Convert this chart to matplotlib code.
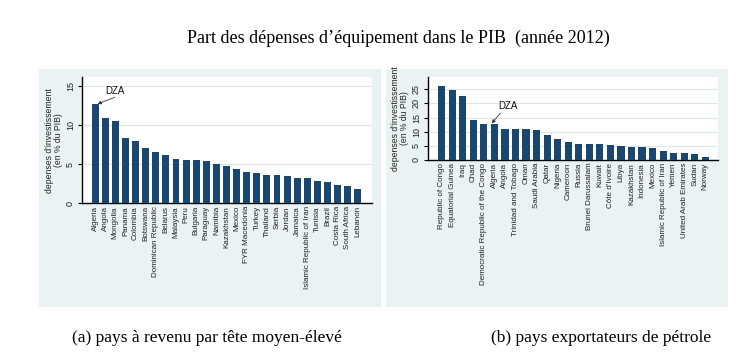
import matplotlib
matplotlib.use("Agg")
import matplotlib.pyplot as plt
from matplotlib.patches import Rectangle

# ---- data ----
countries_a = ["Algeria", "Angola", "Mongolia", "Panama", "Colombia", "Botswana",
               "Dominican Republic", "Belarus", "Malaysia", "Peru", "Bulgaria",
               "Paraguay", "Namibia", "Kazakhstan", "Mexico", "FYR Macedonia",
               "Turkey", "Thailand", "Serbia", "Jordan", "Jamaica",
               "Islamic Republic of Iran", "Tunisia", "Brazil", "Costa Rica",
               "South Africa", "Lebanon"]
values_a = [12.7, 10.9, 10.6, 8.35, 7.97, 7.03, 6.52, 6.14, 5.67, 5.54, 5.54,
            5.41, 4.98, 4.73, 4.39, 3.96, 3.83, 3.58, 3.58, 3.45, 3.24,
            3.2, 2.81, 2.68, 2.3, 2.17, 1.83]

countries_b = ["Republic of Congo", "Equatorial Guinea", "Iraq", "Chad",
               "Democratic Republic of the Congo", "Algeria", "Angola",
               "Trinidad and Tobago", "Oman", "Saudi Arabia", "Qatar", "Nigeria",
               "Cameroon", "Russia", "Brunei Darussalam", "Kuwait", "Côte d'Ivoire",
               "Libya", "Kazakhstan", "Indonesia", "Mexico",
               "Islamic Republic of Iran", "Yemen", "United Arab Emirates",
               "Sudan", "Norway"]
values_b = [26.2, 24.8, 22.6, 14.1, 12.7, 12.7, 10.95, 10.95, 10.95, 10.6, 8.8,
            7.4, 6.4, 5.7, 5.7, 5.7, 5.3, 4.95, 4.6, 4.6, 4.2, 3.3, 2.5, 2.5,
            2.1, 1.2]

yticks_a = [0, 5, 10, 15]
yticks_b = [0, 5, 10, 15, 20, 25]

title = "Part des dépenses d\u2019équipement dans le PIB  (année 2012)"
caption_a = "(a) pays à revenu par tête moyen-élevé"
caption_b = "(b) pays exportateurs de pétrole"
ylabel = "depenses d'investissement\n(en % du PIB)"

W, H = 754, 357
BAR = "#1a476f"
BG = "#eaf2f3"
GRID = "#dde7ea"
SANS = ["Liberation Sans", "DejaVu Sans"]
SERIF = ["Liberation Serif", "DejaVu Serif"]

fig = plt.figure(figsize=(W / 100, H / 100), dpi=100)
fig.patch.set_facecolor("white")


def px_rect(x0, y0, x1, y1):
    return [x0 / W, 1 - y1 / H, (x1 - x0) / W, (y1 - y0) / H]


# panel backgrounds (drawn beneath the axes)
for (x0, y0, x1, y1) in [(39, 69, 381, 307), (386, 69, 728, 307)]:
    r = px_rect(x0, y0, x1, y1)
    fig.patches.append(Rectangle((r[0], r[1]), r[2], r[3], transform=fig.transFigure,
                                 facecolor=BG, edgecolor="none", zorder=-10))


def make_panel(rect, cats, vals, yticks, ylim, xlim, dza_xy, dza_arrow):
    ax = fig.add_axes(px_rect(*rect))
    ax.set_zorder(1)
    ax.set_facecolor("white")
    x = list(range(len(cats)))
    ax.bar(x, vals, width=0.68, color=BAR, zorder=3)
    ax.set_xlim(*xlim)
    ax.set_ylim(*ylim)
    ax.set_yticks(yticks)
    ax.set_yticklabels([str(t) for t in yticks], rotation=90, va="center",
                       fontsize=6.5, family=SANS, color="#222222")
    ax.set_xticks(x)
    ax.set_xticklabels(cats, rotation=90, fontsize=5.8, family=SANS, color="#222222")
    ax.tick_params(axis="x", length=0, pad=2)
    ax.tick_params(axis="y", length=3, width=0.8, pad=2)
    for s in ["top", "right"]:
        ax.spines[s].set_visible(False)
    for s in ["left", "bottom"]:
        ax.spines[s].set_linewidth(1.0)
        ax.spines[s].set_color("black")
    ax.yaxis.grid(True, color=GRID, linewidth=0.8, zorder=0)
    ax.set_axisbelow(True)
    ax.set_ylabel(ylabel, fontsize=6.2, family=SANS, labelpad=2, linespacing=1.0,
                  color="#222222")
    ax.annotate("", xy=dza_arrow[1], xytext=dza_arrow[0],
                arrowprops=dict(arrowstyle="-|>", color="#333333", lw=0.6,
                                mutation_scale=5, shrinkA=0, shrinkB=0), zorder=5)
    ax.text(dza_xy[0], dza_xy[1], "DZA", fontsize=7, family=SANS,
            ha="center", va="center", color="#111111", zorder=5)
    return ax


make_panel((82, 77, 372, 203.3), countries_a, values_a, yticks_a, (0, 16.2),
           (-1.3, 27.4), (2.0, 14.4), ((1.95, 13.6), (0.25, 12.75)))
make_panel((428, 77, 718, 160), countries_b, values_b, yticks_b, (0, 29.3),
           (-1.3, 26.2), (6.3, 19.2), ((5.55, 16.5), (4.75, 12.95)))

fig.text(398 / W, 1 - 38 / H, title, ha="center", va="center", fontsize=13, family=SERIF)
fig.text(207 / W, 1 - 338 / H, caption_a, ha="center", va="center", fontsize=12.5, family=SERIF)
fig.text(601 / W, 1 - 338 / H, caption_b, ha="center", va="center", fontsize=12.5, family=SERIF)

fig.savefig("out.png", dpi=100, facecolor="white")
